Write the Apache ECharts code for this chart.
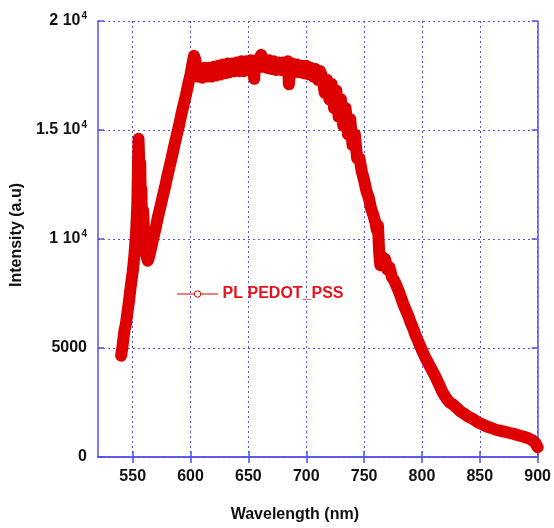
<!DOCTYPE html>
<html><head><meta charset="utf-8">
<script src="https://cdn.jsdelivr.net/npm/echarts@6/dist/echarts.min.js"></script>
<style>html,body{margin:0;padding:0;background:#fff}#c{width:554px;height:528px}</style>
</head><body><div id="c"></div>
<script>
const seriesName = 'PL PEDOT_PSS';
const wavelength = [540,541,542,543,544,545,546,547,548,549,550,551,552,553,554,554.5,555,555.5,556,556.5,557,557.5,558,559,560,561,562,563,564,566,568,570,572,574,576,578,580,582,584,586,588,590,592,594,596,598,600,601,602,603,604,605,606,608,610,612,614,616,618,620,622,624,626,628,630,632,634,636,638,640,642,644,646,648,650,652,654,655,656,658,660,661,662,664,666,668,670,672,674,676,678,680,682,684,685,686,688,690,692,694,696,698,700,702,704,706,708,710,712,714,716,718,720,722,724,726,728,730,732,734,736,738,740,742,744,746,748,750,752,754,756,758,760,761,762,763,764,765,766,768,770,772,774,776,778,780,782,784,786,788,790,792,794,796,798,800,803,806,809,812,815,818,821,824,827,830,833,836,840,844,848,852,856,860,864,868,872,876,880,884,888,892,895,898,900];
const intensity = [4650,5000,5450,5850,6050,6450,6850,7250,7700,8100,8500,9000,9600,10400,11600,13200,14600,13800,12600,13500,11700,12300,10900,11300,10000,9500,9200,9000,9150,9600,10100,10550,11050,11500,11950,12400,12900,13350,13800,14300,14750,15200,15700,16150,16600,17100,17550,17850,18150,18400,18250,17900,17450,17800,17400,17850,17450,17850,17450,17900,17500,17950,17550,18000,17600,18050,17650,18050,17700,18100,17700,18150,17700,18150,17750,18200,17750,17350,18200,17850,18300,18450,17900,18250,17850,18200,17800,18150,17750,18100,17750,18100,17750,18150,17100,17700,18050,17650,18000,17650,17950,17600,17950,17550,17850,17450,17800,17300,17700,17400,16700,17300,16400,17100,16000,16800,15600,16400,15200,16000,14800,15500,14300,14800,13700,13700,13100,12700,12200,11900,11400,11100,10700,10400,10600,9400,8800,9200,8800,9100,8600,8700,8250,8100,7850,7600,7300,7000,6750,6500,6200,5950,5650,5400,5150,4900,4550,4250,3950,3650,3300,2950,2700,2500,2400,2250,2100,2000,1850,1750,1600,1500,1400,1330,1250,1200,1150,1100,1050,990,930,860,780,650,450];
const xTicks = [550,600,650,700,750,800,850,900];
const yTicks = [0,5000,10000,15000,20000];
const yTickBase = ['0','5000','1 10','1.5 10','2 10'];
const yTickExp = ['','','4','4','4'];
const xTitle = 'Wavelength (nm)';
const yTitle = 'Intensity (a.u)';

const RED = '#de0000';
const BLUE = '#5252ec';
const FONT = "'Liberation Sans', Arial, sans-serif";

const chart = echarts.init(document.getElementById('c'), null, {renderer: 'canvas'});
const points = wavelength.map((w, i) => [w, intensity[i]]);

const axisLineStyle = {show: true, lineStyle: {color: BLUE, width: 1.5}};
const tickStyle = {show: true, inside: true, length: 6, lineStyle: {color: BLUE, width: 1.5}};

chart.setOption({
  animation: false,
  backgroundColor: '#fff',
  grid: {left: 98, right: 15, top: 21, bottom: 66, containLabel: false},
  legend: {
    left: 177, top: 286, padding: 0,
    itemWidth: 40, itemHeight: 8,
    data: [seriesName],
    textStyle: {color: '#e8141b', fontWeight: 'bold', fontSize: 16, fontFamily: FONT},
    lineStyle: {width: 1.2, color: RED},
    itemStyle: {color: '#fff', borderColor: RED, borderWidth: 1}
  },
  xAxis: [{
    type: 'value', min: 520, max: 900, position: 'bottom',
    name: xTitle, nameLocation: 'middle', nameGap: 50,
    nameTextStyle: {fontSize: 16, fontWeight: 'bold', color: '#111', fontFamily: FONT, padding: [0, 46, 0, 0]},
    axisLine: axisLineStyle,
    axisTick: Object.assign({customValues: xTicks}, tickStyle),
    axisLabel: {customValues: xTicks, margin: 12, fontSize: 16, fontWeight: 'bold', color: '#111', fontFamily: FONT},
    splitLine: {show: true, lineStyle: {color: BLUE, width: 1, type: [2, 3]}}
  }, {
    type: 'value', min: 520, max: 900, position: 'top',
    axisLine: axisLineStyle,
    axisTick: Object.assign({customValues: xTicks}, tickStyle),
    axisLabel: {show: false, customValues: xTicks},
    splitLine: {show: false}
  }],
  yAxis: [{
    type: 'value', min: 0, max: 20000, interval: 5000, position: 'left',
    name: yTitle, nameLocation: 'middle', nameGap: 69,
    nameTextStyle: {fontSize: 16, fontWeight: 'bold', color: '#111', fontFamily: FONT, padding: [0, 0, 0, 8]},
    axisLine: axisLineStyle,
    axisTick: tickStyle,
    axisLabel: {
      margin: 11, fontFamily: FONT,
      formatter: v => {
        const i = yTicks.indexOf(v);
        if (i < 0) return '';
        return yTickExp[i] ? '{b|' + yTickBase[i] + '}{s|' + yTickExp[i] + '}' : '{b|' + yTickBase[i] + '}';
      },
      rich: {
        b: {fontSize: 16, fontWeight: 'bold', color: '#111', fontFamily: FONT, lineHeight: 20},
        s: {fontSize: 10, fontWeight: 'bold', color: '#111', fontFamily: FONT, verticalAlign: 'top', lineHeight: 10, padding: [0, 0, 0, 1]}
      }
    },
    splitLine: {show: true, lineStyle: {color: BLUE, width: 1, type: [2, 3]}}
  }, {
    type: 'value', min: 0, max: 20000, interval: 5000, position: 'right',
    axisLine: axisLineStyle,
    axisTick: tickStyle,
    axisLabel: {show: false},
    splitLine: {show: false}
  }],
  series: [{
    name: seriesName,
    type: 'line',
    xAxisIndex: 0, yAxisIndex: 0,
    data: points,
    showSymbol: true, showAllSymbol: true,
    symbol: 'circle', symbolSize: 7,
    itemStyle: {color: 'rgba(0,0,0,0)', borderColor: RED, borderWidth: 1},
    lineStyle: {color: RED, width: 12, join: 'round', cap: 'round'},
    emphasis: {disabled: true}
  }]
});
</script>
</body></html>
